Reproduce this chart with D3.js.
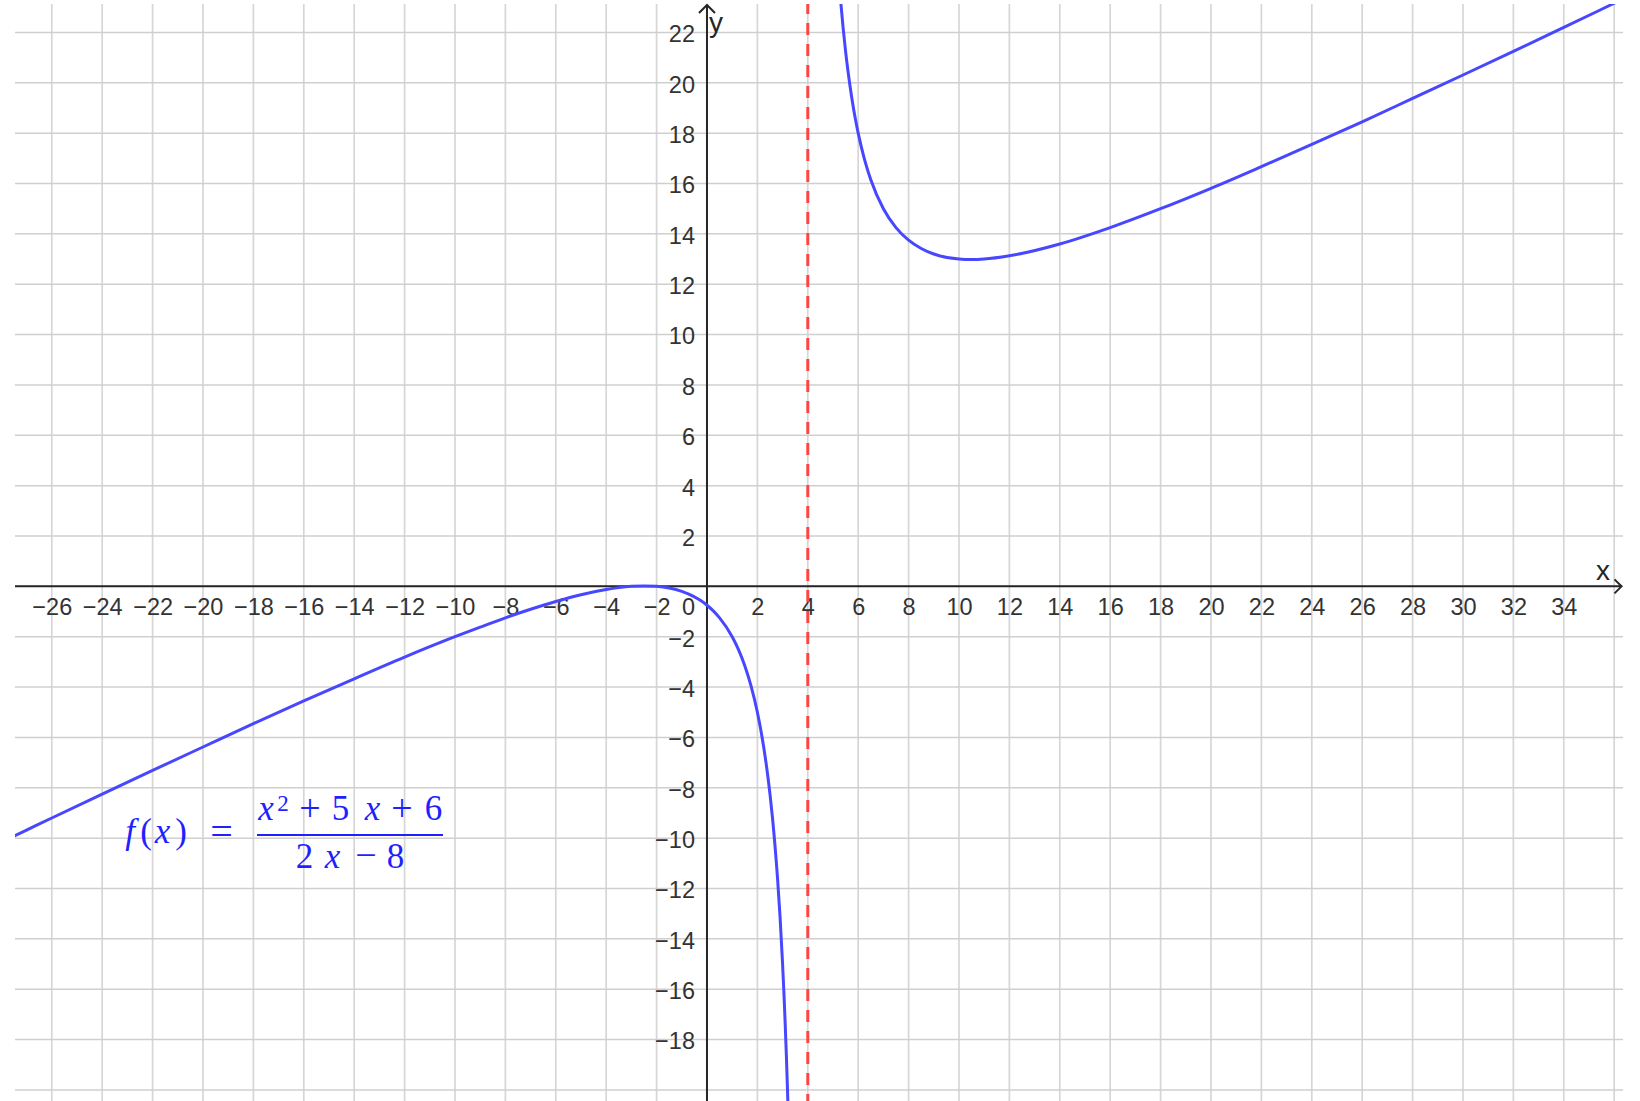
<!DOCTYPE html>
<html>
<head>
<meta charset="utf-8">
<script src="https://cdn.jsdelivr.net/npm/d3@7"></script>
<style>
	body { margin: 0; background: #fff; }
	svg { display: block; }
	.tick text { font-family: "Liberation Sans", Arial, sans-serif; font-size: 23.5px; fill: #333; }
</style>
</head>
<body>
<svg></svg>
<script>
// Tick labels shown on the axes (0 is drawn by hand at the origin)
var xTicks = [-26, -24, -22, -20, -18, -16, -14, -12, -10, -8, -6, -4, -2, 2, 4, 6, 8, 10, 12, 14, 16, 18, 20, 22, 24, 26, 28, 30, 32, 34];
var yTicks = [-18, -16, -14, -12, -10, -8, -6, -4, -2, 2, 4, 6, 8, 10, 12, 14, 16, 18, 20, 22];

// Grid lines every 2 units
var xGrid = [-26, -24, -22, -20, -18, -16, -14, -12, -10, -8, -6, -4, -2, 0, 2, 4, 6, 8, 10, 12, 14, 16, 18, 20, 22, 24, 26, 28, 30, 32, 34, 36];
var yGrid = [-20, -18, -16, -14, -12, -10, -8, -6, -4, -2, 0, 2, 4, 6, 8, 10, 12, 14, 16, 18, 20, 22];

// Left branch of the curve
var leftX = [-28, -27, -26, -24, -22, -20, -18, -16, -14, -12, -10, -9, -8, -7, -6, -5, -4, -3.5, -3, -2.5, -2, -1.5, -1, -0.5, -0.25, 0, 0.25, 0.5, 1, 1.25, 1.5, 1.75, 2, 2.25, 2.4, 2.5, 2.6, 2.75, 2.8, 2.9, 3, 3.05, 3.1, 3.15, 3.2, 3.3];
var leftY = [-10.16, -9.68, -9.2, -8.25, -7.31, -6.38, -5.45, -4.55, -3.67, -2.81, -2, -1.62, -1.25, -0.91, -0.6, -0.33, -0.125, -0.05, 0, 0.019, 0, -0.068, -0.2, -0.417, -0.566, -0.75, -0.975, -1.25, -2, -2.51, -3.15, -3.96, -5, -6.38, -7.43, -8.25, -9.2, -10.93, -11.6, -13.14, -15, -16.08, -17.28, -18.63, -20.15, -23.85];

// Right branch of the curve
var rightX = [5.2, 5.3, 5.4, 5.5, 5.6, 5.75, 5.9, 6, 6.25, 6.5, 7, 7.5, 8, 8.5, 9, 10, 10.5, 11, 12, 14, 16, 18, 20, 22, 24, 26, 28, 30, 32, 34, 36, 37];
var rightY = [24.6, 23.3, 22.2, 21.25, 20.43, 19.38, 18.5, 18, 16.96, 16.15, 15, 14.25, 13.75, 13.42, 13.2, 13, 12.98, 13, 13.13, 13.6, 14.25, 15, 15.81, 16.67, 17.55, 18.45, 19.38, 20.31, 21.25, 22.2, 23.16, 23.64];

// Vertical asymptote
var asymptoteX = 4;

var width = 1640, height = 1101;
var plotLeft = 15, plotRight = 1623, plotTop = 4, plotBottom = 1101;

var x = d3.scaleLinear().domain([-27.46, 36.35]).range([plotLeft, plotRight]);
var y = d3.scaleLinear().domain([23.13, -20.44]).range([plotTop, plotBottom]);

var svg = d3.select("svg")
	.attr("width", width)
	.attr("height", height);

svg.append("defs").append("clipPath")
		.attr("id", "plot-clip")
	.append("rect")
		.attr("x", plotLeft)
		.attr("y", plotTop)
		.attr("width", plotRight - plotLeft)
		.attr("height", plotBottom - plotTop);

// Grid
var grid = svg.append("g").attr("class", "grid");

grid.selectAll(".vgrid")
		.data(xGrid)
	.enter().append("line")
		.attr("class", "vgrid")
		.attr("x1", function(d) { return x(d); })
		.attr("x2", function(d) { return x(d); })
		.attr("y1", plotTop)
		.attr("y2", plotBottom)
		.attr("stroke", "#d6d6d6")
		.attr("stroke-width", 1.7);

grid.selectAll(".hgrid")
		.data(yGrid)
	.enter().append("line")
		.attr("class", "hgrid")
		.attr("x1", plotLeft)
		.attr("x2", plotRight)
		.attr("y1", function(d) { return y(d); })
		.attr("y2", function(d) { return y(d); })
		.attr("stroke", "#cfcfcf")
		.attr("stroke-width", 1.5);

// Axes lines with open arrow heads
var axes = svg.append("g")
	.attr("stroke", "#262626")
	.attr("stroke-width", 2)
	.attr("fill", "none");

axes.append("line")
	.attr("x1", plotLeft).attr("x2", 1621.5)
	.attr("y1", y(0)).attr("y2", y(0));

axes.append("path")
	.attr("d", "M" + (1621.5 - 7) + "," + (y(0) - 7) + "L1621.5," + y(0) + "L" + (1621.5 - 7) + "," + (y(0) + 7));

axes.append("line")
	.attr("x1", x(0)).attr("x2", x(0))
	.attr("y1", plotBottom).attr("y2", 5);

axes.append("path")
	.attr("d", "M" + (x(0) - 8) + ",13L" + x(0) + ",5L" + (x(0) + 8) + ",13");

// Tick labels
var minus = function(d) { return d < 0 ? "\u2212" + Math.abs(d) : String(d); };

svg.append("g")
		.attr("transform", "translate(0," + y(0) + ")")
		.call(d3.axisBottom(x).tickValues(xTicks).tickSize(0).tickPadding(12.3).tickFormat(minus))
		.call(function(g) { g.select(".domain").remove(); });

svg.append("g")
		.attr("transform", "translate(" + x(0) + ",0)")
		.call(d3.axisLeft(y).tickValues(yTicks).tickSize(0).tickPadding(12).tickFormat(minus))
		.call(function(g) { g.select(".domain").remove(); })
		.selectAll("text")
			.attr("dy", "0.40em");

svg.append("text")
	.attr("x", x(0) - 12)
	.attr("y", y(0) + 29)
	.attr("text-anchor", "end")
	.attr("font-family", "Liberation Sans, Arial, sans-serif")
	.attr("font-size", "23.5px")
	.attr("fill", "#333")
	.text("0");

// Axis names
svg.append("text")
	.attr("x", 1596)
	.attr("y", 580)
	.attr("font-family", "Liberation Sans, Arial, sans-serif")
	.attr("font-size", "28px")
	.attr("fill", "#262626")
	.text("x");

svg.append("text")
	.attr("x", 709)
	.attr("y", 32)
	.attr("font-family", "Liberation Sans, Arial, sans-serif")
	.attr("font-size", "28px")
	.attr("fill", "#262626")
	.text("y");

// Dashed asymptote
svg.append("line")
	.attr("clip-path", "url(#plot-clip)")
	.attr("x1", x(asymptoteX)).attr("x2", x(asymptoteX))
	.attr("y1", plotTop).attr("y2", plotBottom)
	.attr("stroke", "#ff4444")
	.attr("stroke-width", 3)
	.attr("stroke-dasharray", "12,9")
	.attr("stroke-dashoffset", 2);

// Curve
var line = d3.line()
	.x(function(d) { return x(d[0]); })
	.y(function(d) { return y(d[1]); })
	.curve(d3.curveMonotoneX);

var curves = svg.append("g")
	.attr("clip-path", "url(#plot-clip)")
	.attr("fill", "none")
	.attr("stroke", "#4747ff")
	.attr("stroke-width", 3)
	.attr("stroke-linejoin", "round");

curves.append("path")
	.attr("d", line(d3.zip(leftX, leftY)));

curves.append("path")
	.attr("d", line(d3.zip(rightX, rightY)));

// Formula label
var formula = svg.append("g")
	.attr("fill", "#1f1fff")
	.attr("font-family", "Liberation Serif, Times New Roman, serif")
	.attr("text-anchor", "middle");

function glyph(str, cx, base, italic, size)
{
	formula.append("text")
		.attr("x", cx)
		.attr("y", base)
		.attr("font-size", (size || 35) + "px")
		.attr("font-style", italic ? "italic" : "normal")
		.text(str);
}

glyph("f", 130, 843, true);
glyph("(", 146, 843);
glyph("x", 162.5, 843, true);
glyph(")", 181, 843);
glyph("=", 221.5, 845, false, 40);

glyph("x", 266, 820, true);
glyph("2", 283, 811, false, 23);
glyph("+", 310, 821, false, 38);
glyph("5", 340.5, 820);
glyph("x", 372.5, 820, true);
glyph("+", 402, 821, false, 38);
glyph("6", 433.5, 820);

formula.append("line")
	.attr("x1", 257).attr("x2", 443)
	.attr("y1", 835).attr("y2", 835)
	.attr("stroke", "#1f1fff")
	.attr("stroke-width", 2);

glyph("2", 304.5, 868);
glyph("x", 332.5, 868, true);
glyph("\u2212", 366, 868, false, 38);
glyph("8", 395.5, 868);
</script>
</body>
</html>
